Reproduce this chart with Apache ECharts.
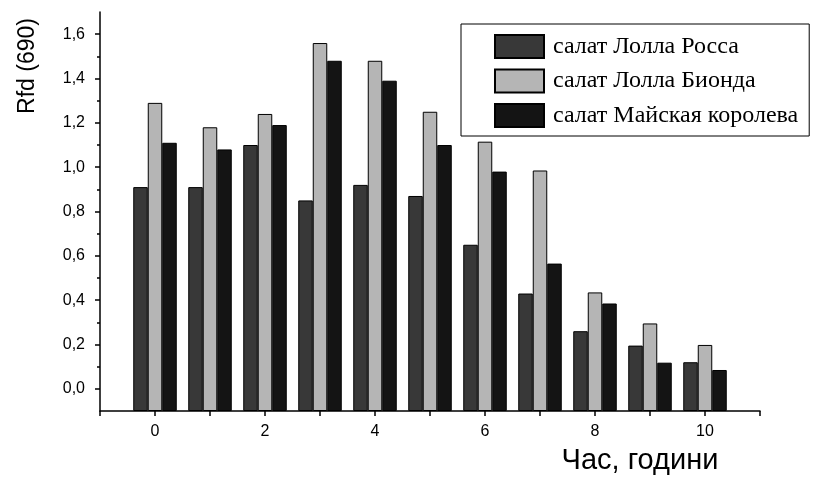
<!DOCTYPE html>
<html>
<head>
<meta charset="utf-8">
<script src="https://cdn.jsdelivr.net/npm/echarts@6/dist/echarts.min.js"></script>
<style>
  html, body { margin: 0; padding: 0; background: #fff; }
  #chart { width: 816px; height: 480px; }
</style>
</head>
<body>
<div id="chart"></div>
<script>
"use strict";
// години
var hours = [0, 1, 2, 3, 4, 5, 6, 7, 8, 9, 10];
var seriesNames = ["салат Лолла Росса", "салат Лолла Бионда", "салат Майская королева"];
var lollaRossa = [0.91, 0.91, 1.10, 0.85, 0.92, 0.87, 0.65, 0.43, 0.26, 0.195, 0.12];
var lollaBionda = [1.29, 1.18, 1.24, 1.56, 1.48, 1.25, 1.115, 0.985, 0.435, 0.295, 0.198];
var mayQueen = [1.11, 1.08, 1.19, 1.48, 1.39, 1.10, 0.98, 0.565, 0.385, 0.118, 0.085];
var yLabelValues = [0, 0.2, 0.4, 0.6, 0.8, 1.0, 1.2, 1.4, 1.6];
var yMinorValues = [0.1, 0.3, 0.5, 0.7, 0.9, 1.1, 1.3, 1.5];
var xLabelValues = [0, 2, 4, 6, 8, 10];
var colors = ["#383838", "#b5b5b5", "#141414"];

var chart = echarts.init(document.getElementById("chart"));

function pairs(vals) {
  return hours.map(function (h, i) { return [h, vals[i]]; });
}

var allValues = [lollaRossa, lollaBionda, mayQueen];
var series = allValues.map(function (vals, i) {
  return {
    name: seriesNames[i],
    type: "bar",
    data: pairs(vals),
    barWidth: 14.5,
    barGap: "0%",
    itemStyle: { color: colors[i], borderColor: "#000", borderWidth: 1 }
  };
});

var axisFont = { fontFamily: "Liberation Sans", color: "#000" };

chart.setOption({
  animation: false,
  grid: { left: 100, right: 56, top: 12, bottom: 69, outerBoundsMode: "none", containLabel: false },
  legend: {
    orient: "vertical",
    left: 461,
    top: 24,
    padding: [10, 11, 8, 33],
    icon: "rect",
    itemWidth: 49,
    itemHeight: 23,
    itemGap: 9.5,
    borderColor: "#000",
    borderWidth: 1,
    backgroundColor: "#fff",
    textStyle: { fontFamily: "Liberation Serif", fontSize: 24, lineHeight: 23, color: "#000", padding: [0, 0, 0, 4] },
    data: seriesNames
  },
  xAxis: {
    type: "value",
    min: -1,
    max: 11,
    interval: 1,
    name: "Час, години",
    nameLocation: "end",
    nameGap: -120,
    nameTextStyle: { fontFamily: "Liberation Sans", fontSize: 29, color: "#000",
      align: "center", verticalAlign: "top", padding: [35, 0, 0, 0] },
    axisLine: { onZero: false, lineStyle: { color: "#000", width: 1.5 } },
    axisTick: { length: 5, lineStyle: { color: "#000", width: 1.5 } },
    axisLabel: Object.assign({ fontSize: 16, margin: 13, customValues: xLabelValues }, axisFont),
    splitLine: { show: false }
  },
  yAxis: [{
    type: "value",
    min: -0.1,
    max: 1.7,
    startValue: -0.1,
    name: "Rfd (690)",
    nameLocation: "end",
    nameRotate: 90,
    nameGap: -54,
    nameTextStyle: { fontFamily: "Liberation Sans", fontSize: 23, color: "#000",
      align: "center", verticalAlign: "bottom", padding: [0, 0, 61, 0] },
    axisLine: { show: true, onZero: false, lineStyle: { color: "#000", width: 1.5 } },
    axisTick: { show: true, length: 5, customValues: yLabelValues, lineStyle: { color: "#000", width: 1.5 } },
    axisLabel: Object.assign({ fontSize: 16, margin: 15, customValues: yLabelValues,
      formatter: function (v) { return v.toFixed(1).replace(".", ","); } }, axisFont),
    splitLine: { show: false }
  }, {
    // малки деления
    type: "value",
    min: -0.1,
    max: 1.7,
    position: "left",
    axisLine: { show: false, onZero: false },
    axisTick: { show: true, length: 3, customValues: yMinorValues, lineStyle: { color: "#000", width: 1.5 } },
    axisLabel: { show: false },
    splitLine: { show: false }
  }],
  series: series
});
</script>
</body>
</html>
